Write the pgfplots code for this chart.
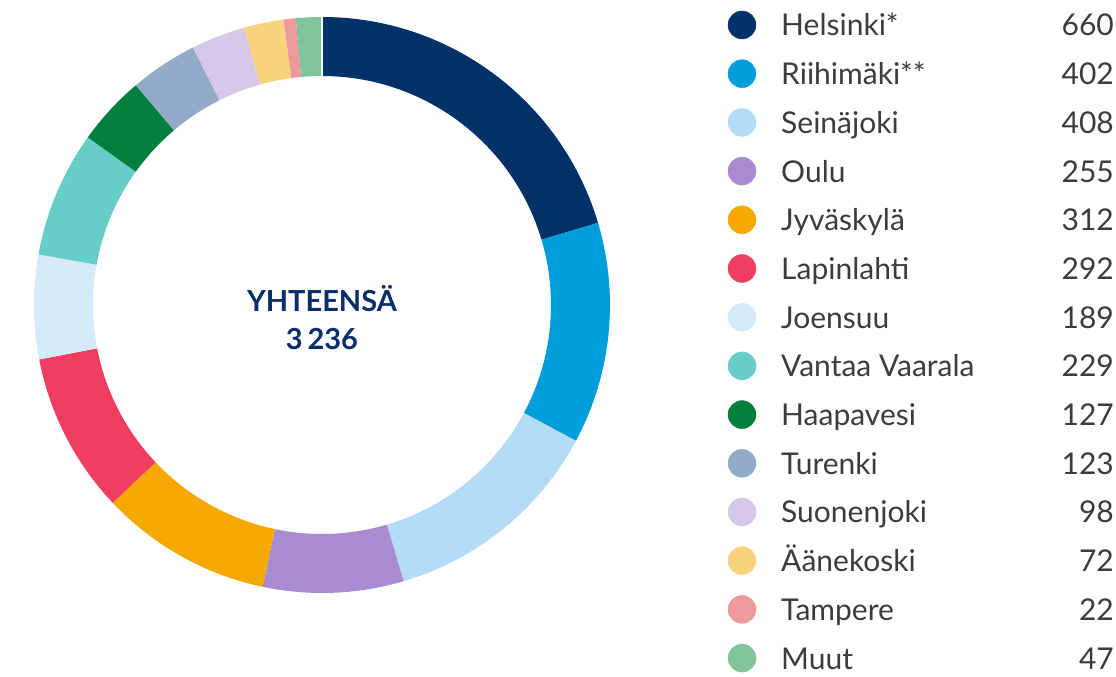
\documentclass[border=0pt]{standalone}
\usepackage{pgfplots}
\usepackage{pgfplotstable}
\usepackage{fontspec}
\pgfplotsset{compat=1.18}
\setmainfont{Lato}

\definecolor{c0}{HTML}{003169}
\definecolor{c1}{HTML}{009DDB}
\definecolor{c2}{HTML}{B3DCF6}
\definecolor{c3}{HTML}{A98BCF}
\definecolor{c4}{HTML}{F5A800}
\definecolor{c5}{HTML}{EF3E5F}
\definecolor{c6}{HTML}{D6EBF9}
\definecolor{c7}{HTML}{66CDC9}
\definecolor{c8}{HTML}{007F3D}
\definecolor{c9}{HTML}{93AAC8}
\definecolor{c10}{HTML}{D6C8E9}
\definecolor{c11}{HTML}{F9D27E}
\definecolor{c12}{HTML}{EC9A9C}
\definecolor{c13}{HTML}{80C49C}
\definecolor{txt}{HTML}{3C3C3C}
\definecolor{navy}{HTML}{0B2E6B}

% plants and their volumes
\pgfplotstableread[col sep=comma]{
idx,name,value
0,Helsinki*,660
1,Riihimäki**,402
2,Seinäjoki,408
3,Oulu,255
4,Jyväskylä,312
5,Lapinlahti,292
6,Joensuu,189
7,Vantaa Vaarala,229
8,Haapavesi,127
9,Turenki,123
10,Suonenjoki,98
11,Äänekoski,72
12,Tampere,22
13,Muut,47
}\datatable
\pgfplotstablecreatecol[create col/expr accum={\pgfmathaccuma+\thisrow{value}}{0}]{cum}\datatable

\begin{document}
\begin{tikzpicture}
\begin{axis}[
  name=ax,
  x=1pt, y=1pt,
  xmin=-322, xmax=794, ymin=-372, ymax=305,
  hide axis, clip=false,
]
% donut slices, clockwise from the top
\pgfplotsinvokeforeach{0,...,13}{
  \pgfplotstablegetelem{#1}{cum}\of\datatable \let\sliceC\pgfplotsretval
  \pgfplotstablegetelem{#1}{value}\of\datatable \let\sliceV\pgfplotsretval
  \pgfmathsetmacro\sliceS{90-(\sliceC-\sliceV)/3236*360}
  \pgfmathsetmacro\sliceE{90-\sliceC/3236*360}
  \edef\doslice{\noexpand\fill[c#1] (axis cs:0,0) ++(\sliceS:288pt)
    arc[start angle=\sliceS, end angle=\sliceE, radius=288pt] -- ++(\sliceE:-59pt)
    arc[start angle=\sliceE, end angle=\sliceS, radius=229pt] -- cycle;}
  \doslice
}
\draw[white, line width=1.5pt] (axis cs:0,226) -- (axis cs:0,291);

\node[align=center, text=navy, font=\bfseries\fontsize{29}{38}\selectfont]
  at (axis cs:0,-13) {YHTEENSÄ\\3\,236};

% legend
\addplot[scatter, only marks, mark=*, mark size=14pt, point meta=explicit symbolic,
  scatter/classes={0={draw=c0,fill=c0},1={draw=c1,fill=c1},2={draw=c2,fill=c2},
    3={draw=c3,fill=c3},4={draw=c4,fill=c4},5={draw=c5,fill=c5},6={draw=c6,fill=c6},
    7={draw=c7,fill=c7},8={draw=c8,fill=c8},9={draw=c9,fill=c9},10={draw=c10,fill=c10},
    11={draw=c11,fill=c11},12={draw=c12,fill=c12},13={draw=c13,fill=c13}}]
  table[x expr=420, y expr=280-48.7*\coordindex, meta=idx]{\datatable};
\addplot[only marks, mark=none, nodes near coords, point meta=explicit symbolic,
  every node near coord/.append style={anchor=base west, inner sep=0pt, text=txt,
    font=\fontsize{30}{36}\selectfont}]
  table[x expr=459, y expr=280-48.7*\coordindex-11, meta=name]{\datatable};
\addplot[only marks, mark=none, nodes near coords, point meta=explicit symbolic,
  every node near coord/.append style={anchor=base east, inner sep=0pt, text=txt,
    font=\fontsize{30}{36}\selectfont}]
  table[x expr=792, y expr=280-48.7*\coordindex-11, meta=value]{\datatable};
\end{axis}
\useasboundingbox (ax.south west) rectangle (ax.north east);
\end{tikzpicture}
\end{document}
